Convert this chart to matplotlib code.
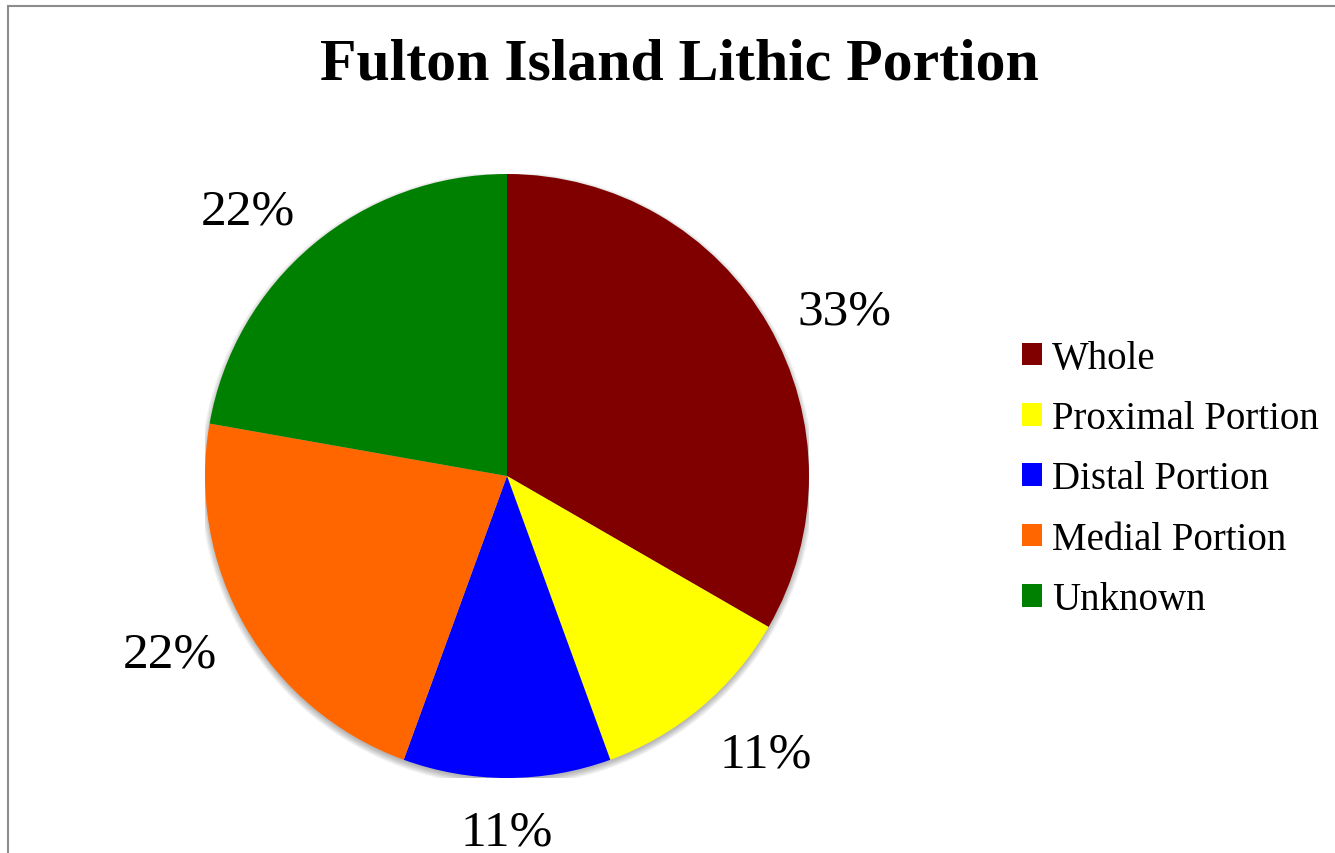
import numpy as np
import matplotlib.pyplot as plt
from matplotlib.patches import Rectangle, Circle

# chart data
categories = ['Whole', 'Proximal Portion', 'Distal Portion', 'Medial Portion', 'Unknown']
counts = [3, 1, 1, 2, 2]
colors = ['#800000', '#ffff00', '#0000ff', '#ff6600', '#008000']

plt.rcParams['font.family'] = ['Liberation Serif', 'DejaVu Serif']

fig = plt.figure(figsize=(13.35, 8.54), dpi=100)
W, H = 1335, 854

# grey chart border (cropped on the right and bottom)
fig.patches.append(Rectangle((8 / W, -0.1), 1.2, 1 - 7 / H + 0.1,
                             transform=fig.transFigure, fill=False,
                             edgecolor='#8c8c8c', linewidth=1.5))

# pie axes: centre (507, 477) px, radius 302 px
cx, cy, r = 507, 477, 302
ax = fig.add_axes([(cx - r) / W, (H - cy - r) / H, 2 * r / W, 2 * r / H])

# soft drop shadow under the pie
for k in range(1, 8):
    ax.add_patch(Circle((0, -3 / r), 1 + (k - 2) / r, color='black',
                        alpha=0.045, lw=0, zorder=0))

wedges, texts, autotexts = ax.pie(counts, colors=colors, startangle=90,
                                  counterclock=False, autopct='%1.0f%%',
                                  pctdistance=1.24, radius=1,
                                  textprops={'fontsize': 37})
for w in wedges:
    w.set_zorder(2)
ax.set_xlim(-1, 1)
ax.set_ylim(-1, 1)
ax.set_aspect('equal')
ax.axis('off')

# put each percentage label just outside the pie, like the original
fig.canvas.draw()
renderer = fig.canvas.get_renderer()
gap = 24
for w, t in zip(wedges, autotexts):
    t.set_clip_on(False)
    t.set_zorder(3)
    ang = np.deg2rad((w.theta1 + w.theta2) / 2)
    ux, uy = np.cos(ang), 0.88 * np.sin(ang)
    n = np.hypot(ux, uy)
    ux, uy = ux / n, uy / n
    bb = t.get_window_extent(renderer)
    d = r + gap + abs(ux) * bb.width / 2 + abs(uy) * bb.height / 2
    t.set_position((d / r * ux, (d * uy - 7) / r))

fig.text(679 / W, 1 - 66 / H, 'Fulton Island Lithic Portion',
         ha='center', va='center', fontsize=43, fontweight='bold')

fig.legend(wedges, categories, loc='center left',
           bbox_to_anchor=(987 / W, 1 - 480 / H), frameon=False,
           fontsize=28, handlelength=0.51, handleheight=0.51,
           handletextpad=0.26, labelspacing=0.6)

fig.savefig('out.png', dpi=100)
